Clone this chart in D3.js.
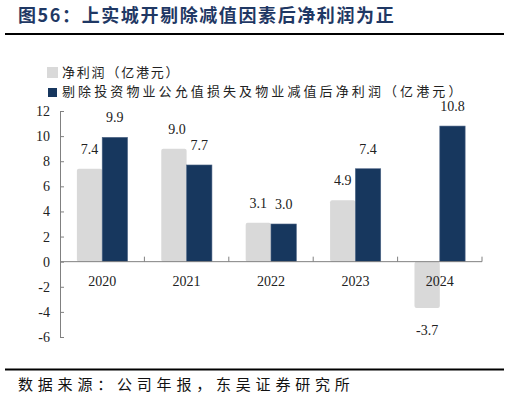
<!DOCTYPE html>
<html>
<head>
<meta charset="utf-8">
<script src="https://cdn.jsdelivr.net/npm/d3@7"></script>
<style>
  html, body { margin: 0; padding: 0; background: #fff; }
  svg { display: block; }
</style>
</head>
<body>
<div id="chart"></div>
<script>
// 数据
const years = ["2020", "2021", "2022", "2023", "2024"];
const netProfit = [7.4, 9.0, 3.1, 4.9, -3.7];
const adjProfit = [9.9, 7.7, 3.0, 7.4, 10.8];
const seriesNames = ["净利润（亿港元）", "剔除投资物业公允值损失及物业减值后净利润（亿港元）"];
const yTicks = [-6, -4, -2, 0, 2, 4, 6, 8, 10, 12];

const width = 510, height = 402;
const cjk = "'Noto Sans CJK SC', sans-serif";
const num = "'Liberation Serif', 'DejaVu Serif', serif";
const colors = ["#d9d9d9", "#17375e"];

const svg = d3.select("#chart").append("svg")
    .attr("width", width)
    .attr("height", height);

// 标题
svg.append("text")
    .attr("x", 18).attr("y", 22)
    .style("font-family", cjk)
    .style("font-size", "18px")
    .style("font-weight", "bold")
    .style("letter-spacing", "1.6px")
    .style("fill", "#1f3864")
    .text("图56：上实城开剔除减值因素后净利润为正");

svg.append("line")
    .attr("x1", 5).attr("x2", 504)
    .attr("y1", 34).attr("y2", 34)
    .style("stroke", "#000").style("stroke-width", 2);

// 图例
const legend = svg.append("g");
seriesNames.forEach((name, i) => {
    const g = legend.append("g").attr("transform", `translate(47,${67 + i * 19})`);
    g.append("rect")
        .attr("x", i ? 1 : 0).attr("y", i ? 2 : 0)
        .attr("width", i ? 9 : 11).attr("height", i ? 9 : 11)
        .style("fill", colors[i]);
    g.append("text")
        .attr("x", 15).attr("y", 10)
        .style("font-family", cjk)
        .style("font-size", "13px")
        .style("letter-spacing", i ? "3.1px" : "1.8px")
        .style("fill", "#222")
        .text(name);
});

// 比例尺
const x0 = d3.scaleBand().domain(years).range([60, 482]).paddingInner(0.4).paddingOuter(0.2);
const x1 = d3.scaleBand().domain([0, 1]).range([0, x0.bandwidth()]);
const y = d3.scaleLinear().domain([-6, 12]).range([337, 111]);

// y 轴
const yAxis = svg.append("g")
    .attr("transform", "translate(60,0)")
    .call(d3.axisLeft(y).tickValues(yTicks).tickSize(-4).tickPadding(10).tickFormat(d => String(d)));
yAxis.select(".domain").style("stroke", "#808080");
yAxis.selectAll(".tick line").style("stroke", "#808080");
yAxis.selectAll("text")
    .style("font-family", num).style("font-size", "14px").style("fill", "#222");

// 柱子
const series = [netProfit, adjProfit];
series.forEach((vals, s) => {
    svg.append("g").selectAll("rect")
        .data(vals)
        .join("rect")
        .attr("x", (d, i) => x0(years[i]) + x1(s))
        .attr("y", d => y(Math.max(0, d)))
        .attr("width", x1.bandwidth())
        .attr("height", d => Math.abs(y(d) - y(0)))
        .attr("rx", s ? 0 : 2)
        .style("fill", colors[s])
        .style("stroke", s ? "#4a6283" : "none")
        .style("stroke-width", 0.6);

    svg.append("g").selectAll("text")
        .data(vals)
        .join("text")
        .attr("x", (d, i) => x0(years[i]) + x1(s) + x1.bandwidth() / 2 + (s === 0 && i === 1 ? 3 : 0))
        .attr("y", d => d >= 0 ? y(d) - 15 : y(d) + 27)
        .attr("text-anchor", "middle")
        .style("font-family", num)
        .style("font-size", "14px")
        .style("fill", "#222")
        .text(d => d.toFixed(1));
});

// x 轴（零线）
const xAxis = svg.append("g").attr("transform", `translate(0,${y(0)})`);
xAxis.append("line")
    .attr("x1", 60).attr("x2", 482)
    .style("stroke", "#808080").style("stroke-width", 1);
xAxis.selectAll(".sep")
    .data(years)
    .join("line")
    .attr("class", "sep")
    .attr("x1", d => x0(d) + x0.bandwidth() + x0.step() * 0.2)
    .attr("x2", d => x0(d) + x0.bandwidth() + x0.step() * 0.2)
    .attr("y1", 0).attr("y2", -5)
    .style("stroke", "#808080");
xAxis.selectAll(".yr")
    .data(years)
    .join("text")
    .attr("class", "yr")
    .attr("x", d => x0(d) + x0.bandwidth() / 2)
    .attr("y", 24)
    .attr("text-anchor", "middle")
    .style("font-family", num)
    .style("font-size", "14px")
    .style("fill", "#222")
    .text(d => d);

// 来源
svg.append("line")
    .attr("x1", 5).attr("x2", 504)
    .attr("y1", 369.5).attr("y2", 369.5)
    .style("stroke", "#000").style("stroke-width", 2);

svg.append("text")
    .attr("x", 18).attr("y", 390)
    .style("font-family", cjk)
    .style("font-size", "15px")
    .style("letter-spacing", "4.8px")
    .style("fill", "#111")
    .text("数据来源：公司年报，东吴证券研究所");
</script>
</body>
</html>
